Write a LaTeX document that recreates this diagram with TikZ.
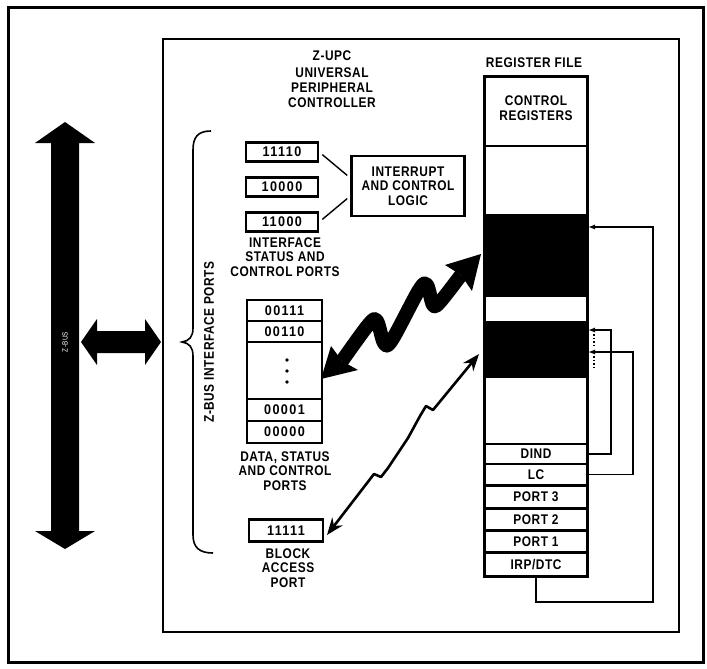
\documentclass[tikz,border=0pt]{standalone}
\usepackage{fontspec}
\setmainfont{Liberation Sans}[FakeStretch=0.85, LetterSpace=4]
\newfontfamily\digfont{Liberation Sans}[FakeStretch=0.9, LetterSpace=10]
\usetikzlibrary{arrows.meta}
\begin{document}
\begin{tikzpicture}[x=1pt,y=-1pt,
  lab/.style={font=\fontsize{14}{14.5}\selectfont\bfseries, align=center, inner sep=0pt},
  pbox/.style={draw, line width=2.4pt, minimum width=72pt, minimum height=19pt, inner sep=0pt, font=\digfont\fontsize{14}{14}\selectfont\bfseries},
  cell/.style={draw, line width=2.2pt, minimum width=102pt, inner sep=0pt, font=\fontsize{14}{14}\selectfont\bfseries},
  fb/.style={line width=1.3pt},
  fbtip/.style={-{Latex[length=7pt,width=5pt]}}
]
\useasboundingbox (0,0) rectangle (707,669);
% frames
\draw[line width=3pt] (8,8) rectangle (703,662);
\draw[line width=2.6pt] (163,39) rectangle (679,632);

% titles
\node[lab] (zupc) at (332,56) {Z-UPC};
\node[lab, font=\fontsize{14}{15}\selectfont\bfseries] (univ) at (332,88) {UNIVERSAL\\PERIPHERAL\\CONTROLLER};
\node[lab] (rf) at (534,63) {REGISTER FILE};

% register file
\node[cell, minimum height=69pt] (ctrl) at (536,111.5) {};
\node[lab] (ctrltxt) at (536,108) {CONTROL\\REGISTERS};
\node[cell, minimum height=69pt] (w1) at (536,180.5) {};
\node[cell, fill=black, minimum height=81pt] (b1) at (536,255.5) {};
\node[cell, minimum height=26pt] (w2) at (536,309) {};
\node[cell, fill=black, minimum height=55pt] (b2) at (536,349.5) {};
\node[cell, minimum height=67pt] (w3) at (536,410.5) {};
\node[cell, minimum height=20pt] (dind) at (536,454) {DIND};
\node[cell, minimum height=21pt] (lc) at (536,474.5) {LC};
\node[cell, minimum height=22pt] (p3) at (536,497) {PORT 3};
\node[cell, minimum height=21pt] (p2) at (536,519.5) {PORT 2};
\node[cell, minimum height=21pt] (p1) at (536,541.5) {PORT 1};
\node[cell, minimum height=23pt] (irp) at (536,564.5) {IRP/DTC};
\draw[line width=2.6pt] (ctrl.north west) rectangle (irp.south east);

% feedback connectors
\coordinate (t1) at (588,227);
\coordinate (t2) at (588,330);
\coordinate (t3) at (588,352);
\draw[fb,fbtip] (irp.south) |- (653,602) |- (t1);
\draw[fb,fbtip] (dind.east) -| (611,330) -- (t2);
\draw[fb,fbtip] (lc.east) -| (633,352) -- (t3);
\draw[line width=1.6pt, dash pattern=on 1.6pt off 2pt] (594,334) -- (594,347);
\draw[line width=1.6pt, dash pattern=on 1.6pt off 2pt] (594,356) -- (594,368);

% interface status and control ports
\node[pbox] (i1) at (282,152) {11110};
\node[pbox] (i2) at (282,187) {10000};
\node[pbox] (i3) at (282,222) {11000};
\node[draw, line width=2.4pt, minimum width=113pt, minimum height=60pt, lab] (intr) at (408,186) {INTERRUPT\\AND CONTROL\\LOGIC};
\draw[line width=1.4pt, shorten <=4pt, shorten >=4pt] (i1.east) -- ([yshift=8pt]intr.west);
\draw[line width=1.4pt, shorten <=4pt, shorten >=4pt] (i3.east) -- ([yshift=-10pt]intr.west);
\node[lab] (ilab) at (285,257) {INTERFACE\\STATUS AND\\CONTROL PORTS};

% data, status and control ports
\node[pbox, minimum width=75pt, minimum height=21pt] (d7) at (284.5,310.5) {00111};
\node[pbox, minimum width=75pt, minimum height=21pt] (d6) at (284.5,331.5) {00110};
\node[pbox, minimum width=75pt, minimum height=57pt] (dm) at (284.5,370.5) {};
\node[pbox, minimum width=75pt, minimum height=22pt] (d1) at (284.5,410) {00001};
\node[pbox, minimum width=75pt, minimum height=22pt] (d0) at (284.5,432) {00000};
\fill (287,360) circle (1.8pt) (287,371) circle (1.8pt) (287,382) circle (1.8pt);
\node[lab] (dlab) at (285,471) {DATA, STATUS\\AND CONTROL\\PORTS};

% block access port
\node[pbox, minimum width=74pt, minimum height=22pt] (blk) at (286,530.5) {11111};
\node[lab] (blab) at (288,568) {BLOCK\\ACCESS\\PORT};

% brace
\draw[line width=1.6pt] (211,131) .. controls (198,131) and (193,137) .. (193,150) -- (193,328) .. controls (193,337) and (189,341) .. (182,342) .. controls (189,343) and (193,347) .. (193,356) -- (193,535) .. controls (193,548) and (200,553) .. (213,553);
\node[lab, rotate=90] (zbip) at (209,342) {Z-BUS INTERFACE PORTS};

% Z-BUS
\fill (65,122) -- (95,143) -- (79,143) -- (79,531) -- (95,531) -- (65,549) -- (35,531) -- (51,531) -- (51,143) -- (35,143) -- cycle;
\node[rotate=90, text=white, font=\fontsize{7.5}{8}\selectfont, inner sep=0pt] (zbus) at (65,342) {Z-BUS};
\fill (81,342) -- (97,319) -- (97,331) -- (145,331) -- (145,319) -- (161,342) -- (145,365) -- (145,353) -- (97,353) -- (97,365) -- cycle;

% big wavy arrow
\draw[line width=14pt, line join=round] plot[smooth, tension=0.55] coordinates {(342,361) (369,324) (377,321) (384,343) (392,340) (419,290) (427,285) (433,305) (440,302) (461,275)};
\fill (321,379) -- (331,346) -- (342,361) -- (358,370) -- cycle;
\fill (481,254) -- (445,265) -- (461,275) -- (472,291) -- cycle;

% thin wavy arrow
\draw[line width=2.6pt, line join=round, {Stealth[length=17pt,width=13pt]}-{Stealth[length=17pt,width=13pt]}] (479,354) -- (433,410) -- (426,406) -- (420,416) -- (408,438) -- (388,468) -- (381,477) -- (374,474) -- (327,535);
\end{tikzpicture}
\end{document}
